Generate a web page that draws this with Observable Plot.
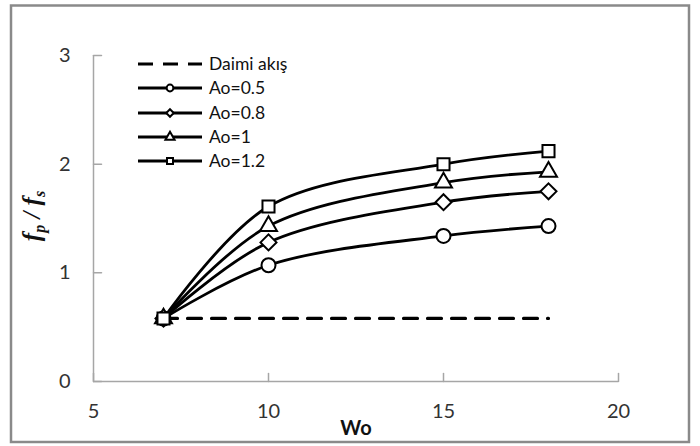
<!DOCTYPE html>
<html><head><meta charset="utf-8">
<script src="https://cdn.jsdelivr.net/npm/d3@7"></script>
<script src="https://cdn.jsdelivr.net/npm/@observablehq/plot@0.6"></script>
<style>body{margin:0;background:#fff} svg{display:block}</style>
</head><body><div id="chart"></div>
<script>
// ---- data ----
const wo = [7, 10, 15, 18];
const seriesNames = ["Ao=0.5", "Ao=0.8", "Ao=1", "Ao=1.2"];
const ao05 = [0.58, 1.07, 1.34, 1.43];
const ao08 = [0.58, 1.28, 1.65, 1.75];
const ao10 = [0.58, 1.43, 1.83, 1.93];
const ao12 = [0.58, 1.61, 2.00, 2.12];
const steadyName = "Daimi akış";
const steadyX = [7, 18];
const steadyY = [0.58, 0.58];
const xTicks = [5, 10, 15, 20];
const yTicks = [0, 1, 2, 3];
const xTitle = "Wo";

// ---- build tables ----
const seriesValues = [ao05, ao08, ao10, ao12];
const symbols = [d3.symbolCircle, d3.symbolDiamond2, d3.symbolTriangle, d3.symbolSquare];
const symbolR = [7, 7.2, 6.3, 6.8];
const series = seriesNames.map((name, i) => ({
  name, symbol: symbols[i], r: symbolR[i],
  rows: wo.map((x, j) => ({x, y: seriesValues[i][j]}))
}));
const steady = steadyX.map((x, i) => ({x, y: steadyY[i]}));

const axisGray = "#a6a6a6";
const tickShape = {draw(ctx, l) { ctx.moveTo(0, 0); ctx.lineTo(0, -l); }};
const fmt = d3.format("d");

const marks = [
  Plot.ruleY([0], {stroke: axisGray, strokeWidth: 1.5}),
  Plot.ruleX([5], {stroke: axisGray, strokeWidth: 1.5}),
  Plot.vector(xTicks, {x: d => d, y: () => 0, length: 8, rotate: 0, anchor: "start", shape: tickShape, stroke: axisGray, strokeWidth: 1.5}),
  Plot.vector(yTicks, {x: () => 5, y: d => d, length: 8, rotate: 90, anchor: "start", shape: tickShape, stroke: axisGray, strokeWidth: 1.5}),
  Plot.axisX(xTicks, {tickSize: 0, tickPadding: 22, fontSize: 20, fill: "#333", label: null, tickFormat: fmt}),
  Plot.axisY(yTicks, {tickSize: 0, tickPadding: 23, fontSize: 20, fill: "#333", label: null, tickFormat: fmt}),
  Plot.text([xTitle], {frameAnchor: "bottom", dy: 53, fontSize: 20, fontWeight: "bold", fill: "#111"}),
  Plot.line(steady, {x: "x", y: "y", stroke: "black", strokeWidth: 3.2, strokeDasharray: "14,10"})
];
for (const s of series) {
  marks.push(Plot.line(s.rows, {x: "x", y: "y", stroke: "black", strokeWidth: 2.8, curve: "catmull-rom"}));
}
for (const s of series) {
  marks.push(Plot.dot(s.rows, {x: "x", y: "y", symbol: s.symbol, r: s.r, fill: "white", stroke: "black", strokeWidth: 2}));
}

const chart = Plot.plot({
  width: 700, height: 446,
  marginLeft: 93, marginRight: 82, marginTop: 55, marginBottom: 65,
  x: {domain: [5, 20]},
  y: {domain: [0, 3]},
  style: {fontFamily: "Lato, 'Open Sans', sans-serif", background: "white"},
  marks
});

const svg = d3.select(chart);
// outer border
svg.append("rect").attr("x", 11).attr("y", 5.5).attr("width", 678).attr("height", 436.5)
  .attr("fill", "none").attr("stroke", "#8a8a8a").attr("stroke-width", 2.5);

// y title
const yt = svg.append("text")
  .attr("transform", "translate(40,216) rotate(-90)")
  .attr("text-anchor", "middle")
  .attr("font-family", "'Liberation Serif', 'DejaVu Serif', serif")
  .attr("font-style", "italic").attr("font-weight", "bold")
  .attr("font-size", 25).attr("fill", "#111");
yt.append("tspan").text("f");
yt.append("tspan").attr("font-size", 16).attr("dy", 5).text("p");
yt.append("tspan").attr("dy", -5).text(" / f");
yt.append("tspan").attr("font-size", 16).attr("dy", 5).text("s");

// legend
const lg = svg.append("g").attr("font-family", "Lato, 'Open Sans', sans-serif")
  .attr("font-size", 17.5).attr("fill", "#111").attr("text-anchor", "start");
const rowsY = [64, 88, 113, 137, 161];
const legendItems = [{name: steadyName, dashed: true}].concat(series.map(s => ({name: s.name, symbol: s.symbol})));
legendItems.forEach((it, i) => {
  const y = rowsY[i];
  lg.append("line").attr("x1", 138).attr("x2", 202).attr("y1", y).attr("y2", y)
    .attr("stroke", "black").attr("stroke-width", it.dashed ? 3.2 : 2.8)
    .attr("stroke-dasharray", it.dashed ? "15,10" : null);
  if (it.symbol) {
    lg.append("path").attr("d", d3.symbol(it.symbol, 36)())
      .attr("transform", `translate(170,${y})`)
      .attr("fill", "white").attr("stroke", "black").attr("stroke-width", 2);
  }
  lg.append("text").attr("x", 209).attr("y", y).attr("dy", "0.35em").attr("text-anchor", "start").text(it.name);
});

document.getElementById("chart").appendChild(chart);
</script>
</body></html>
